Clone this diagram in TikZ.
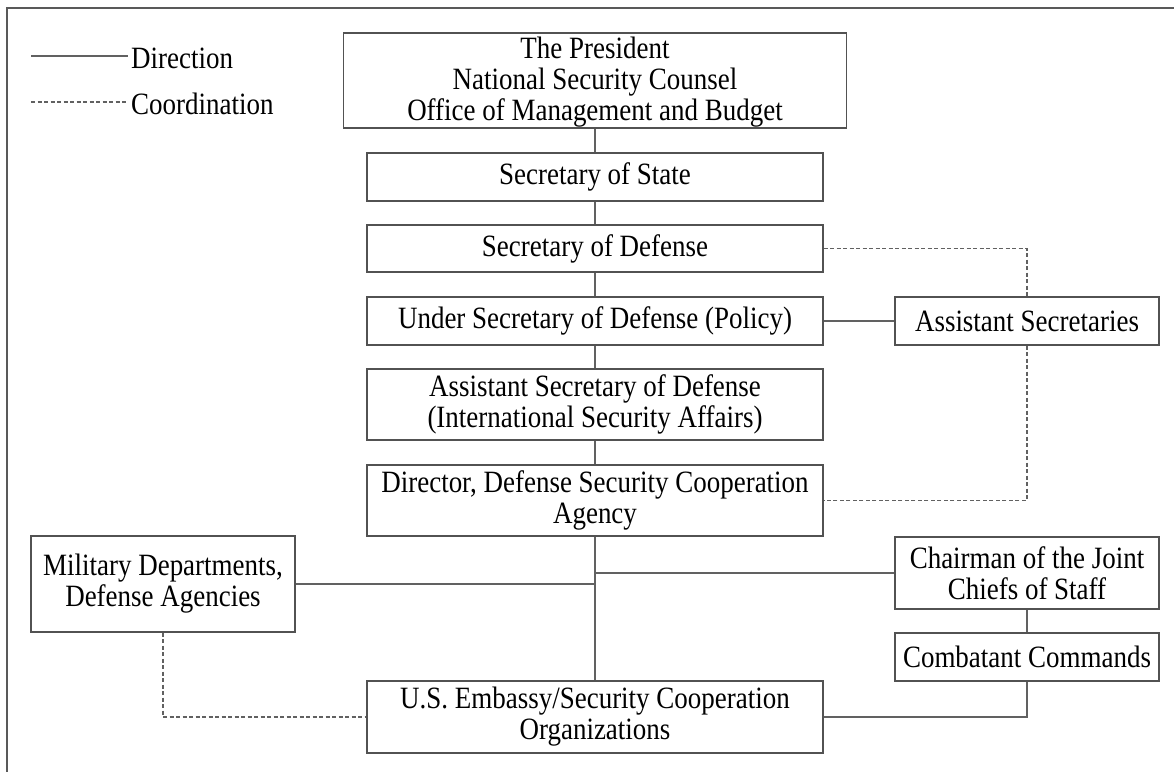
\documentclass[tikz,border=0pt]{standalone}
\usepackage{fontspec}
\setmainfont{Liberation Serif}[FakeStretch=0.87]
\begin{document}
\begin{tikzpicture}[x=1pt,y=-1pt,
  box/.style={draw=black!68, line width=1.1pt, fill=white, align=center, inner sep=0pt,
    font=\fontsize{31}{31}\selectfont},
  wide/.style={box, minimum width=456pt},
  side/.style={box, minimum width=264pt},
  dir/.style={draw=black!62, line width=1.1pt},
  coord/.style={draw=black!62, line width=1.1pt, dash pattern=on 4pt off 2.5pt},
  legtext/.style={anchor=west, inner sep=0pt, font=\fontsize{31}{31}\selectfont}]
\useasboundingbox (0,0) rectangle (1174,772);
% frame (top and left edges)
\coordinate (frTR) at (1174,8);
\coordinate (frTL) at (7,8);
\coordinate (frBL) at (7,772);
\draw[draw=black!65, line width=1.1pt] (frTR) -- (frTL) -- (frBL);
% legend
\coordinate (l1a) at (31,56);
\coordinate (l1b) at (128,56);
\coordinate (l2a) at (31,102);
\coordinate (l2b) at (128,102);
\draw[dir] (l1a) -- (l1b);
\draw[coord] (l2a) -- (l2b);
\node[legtext] (ldir) at (131,58) {Direction};
\node[legtext] (lcoord) at (131,104) {Coordination};
% boxes
\node[box, minimum width=503pt, minimum height=95pt] (pres) at (595,80.5)
  {\rule{0pt}{25pt}The President\\National Security Counsel\\Office of Management and Budget};
\node[wide, minimum height=48pt] (state) at (595,177) {Secretary of State};
\node[wide, minimum height=47pt] (def) at (595,248.5) {Secretary of Defense};
\node[wide, minimum height=48pt] (usd) at (595,321) {Under Secretary of Defense (Policy)};
\node[wide, minimum height=71pt] (asd) at (595,404.5) {Assistant Secretary of Defense\\(International Security Affairs)};
\node[wide, minimum height=71pt] (dsca) at (595,500.5) {Director, Defense Security Cooperation\\Agency};
\node[side, minimum height=48pt] (asec) at (1027,321) {Assistant Secretaries};
\node[side, minimum height=96pt] (mil) at (163,584) {Military Departments,\\Defense Agencies};
\node[side, minimum height=72pt] (cjcs) at (1027,573) {Chairman of the Joint\\Chiefs of Staff};
\node[side, minimum height=48pt] (comb) at (1027,657) {Combatant Commands};
\node[wide, minimum height=72pt] (emb) at (595,717) {U.S. Embassy/Security Cooperation\\Organizations};
% helper coordinates
\coordinate (jl) at (595,584);
\coordinate (jr) at (595,573);
\coordinate (cb) at (1027,717);
\coordinate (mb) at (163,717);
\coordinate (dt) at (1027,248.5);
\coordinate (ab) at (1027,500.5);
% direction lines
\draw[dir] (pres) -- (state);
\draw[dir] (state) -- (def);
\draw[dir] (def) -- (usd);
\draw[dir] (usd) -- (asd);
\draw[dir] (asd) -- (dsca);
\draw[dir] (usd) -- (asec);
\draw[dir] (dsca) -- (emb);
\draw[dir] (mil.east) -- (jl);
\draw[dir] (jr) -- (cjcs.west);
\draw[dir] (cjcs) -- (comb);
\draw[dir] (comb.south) -- (cb) -- (emb.east);
% coordination lines
\draw[coord] (def.east) -- (dt) -- (asec.north);
\draw[coord] (asec.south) -- (ab) -- (dsca.east);
\draw[coord] (mil.south) -- (mb) -- (emb.west);
\end{tikzpicture}
\end{document}
